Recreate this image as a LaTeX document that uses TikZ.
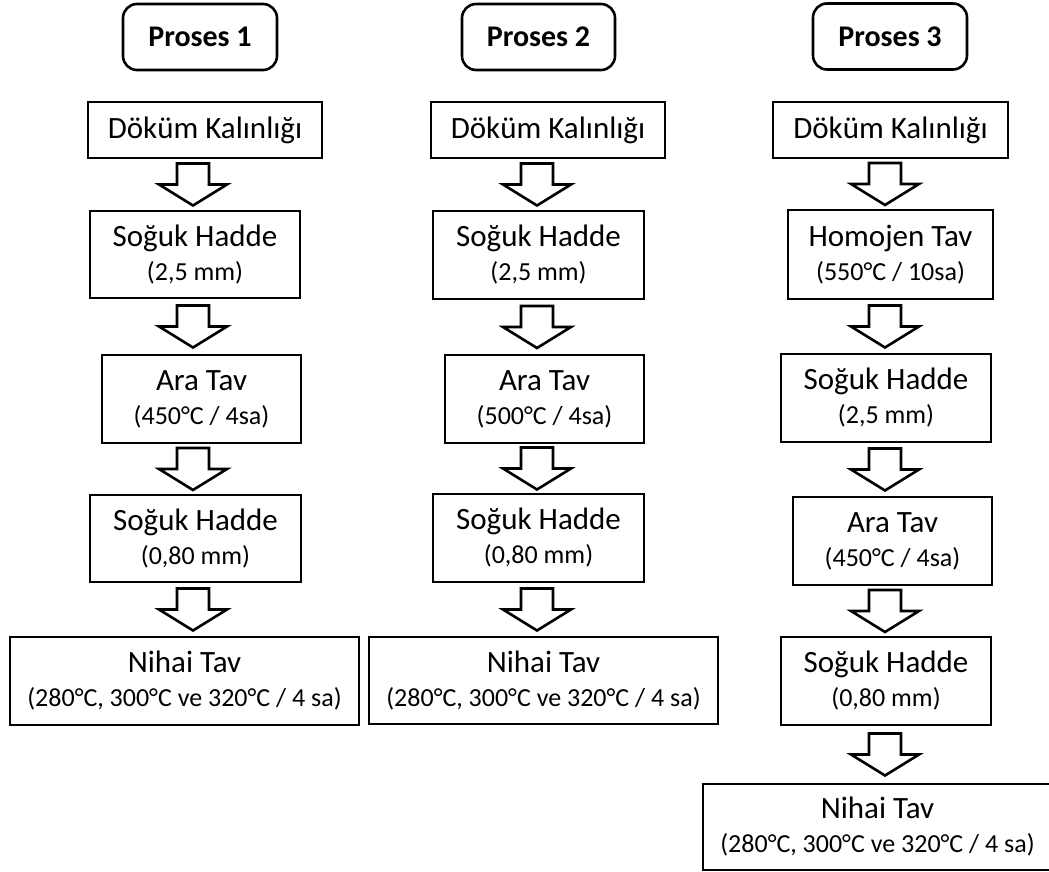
\documentclass[tikz,border=0pt]{standalone}
\usepackage{fontspec}
\setmainfont{Carlito}
\usetikzlibrary{calc}

\begin{document}
\begin{tikzpicture}[x=1pt,y=-1pt,
    stepbox/.style={draw,line width=2.6pt,align=center,inner sep=0pt,
        font=\fontsize{31}{34}\selectfont},
    headbox/.style={stepbox,rounded corners=14pt,font=\fontsize{30}{34}\selectfont\bfseries},
    flowarrow/.style={draw,line width=2.6pt,line join=miter,fill=white}]
    \useasboundingbox (0,0) rectangle (1049,872);

    \newcommand{\sub}[1]{{\fontsize{26}{30}\selectfont #1}}

    \coordinate (ax1) at (193,0);
    \coordinate (ax2) at (537,0);
    \coordinate (ax3) at (885,0);

    % Proses 1
    \node[headbox,minimum width=154,minimum height=66] (p1) at (200,37) {Proses 1};
    \node[stepbox,minimum width=234,minimum height=56] (d1) at (205,130) {Döküm Kalınlığı};
    \node[stepbox,minimum width=210,minimum height=87] (s1a) at (195,254.5) {Soğuk Hadde\\\sub{(2,5 mm)}};
    \node[stepbox,minimum width=199,minimum height=88] (a1) at (201.5,399) {Ara Tav\\\sub{(450°C / 4sa)}};
    \node[stepbox,minimum width=211,minimum height=87] (s1b) at (195.5,538.5) {Soğuk Hadde\\\sub{(0,80 mm)}};
    \node[stepbox,minimum width=349,minimum height=88] (n1) at (184.5,681) {Nihai Tav\\\sub{(280°C, 300°C ve 320°C / 4 sa)}};

    % Proses 2
    \node[headbox,minimum width=153,minimum height=66] (p2) at (538.5,37) {Proses 2};
    \node[stepbox,minimum width=234,minimum height=56] (d2) at (548,130) {Döküm Kalınlığı};
    \node[stepbox,minimum width=211,minimum height=88] (s2a) at (538.5,255) {Soğuk Hadde\\\sub{(2,5 mm)}};
    \node[stepbox,minimum width=199,minimum height=88] (a2) at (544.5,399) {Ara Tav\\\sub{(500°C / 4sa)}};
    \node[stepbox,minimum width=211,minimum height=88] (s2b) at (538.5,538) {Soğuk Hadde\\\sub{(0,80 mm)}};
    \node[stepbox,minimum width=349,minimum height=87] (n2) at (543.5,680.5) {Nihai Tav\\\sub{(280°C, 300°C ve 320°C / 4 sa)}};

    % Proses 3
    \node[headbox,minimum width=154,minimum height=66] (p3) at (890,36.5) {Proses 3};
    \node[stepbox,minimum width=235,minimum height=56] (d3) at (890.5,130) {Döküm Kalınlığı};
    \node[stepbox,minimum width=205,minimum height=89] (h3) at (890.5,254.5) {Homojen Tav\\\sub{(550°C / 10sa)}};
    \node[stepbox,minimum width=210,minimum height=88] (s3a) at (886,398) {Soğuk Hadde\\\sub{(2,5 mm)}};
    \node[stepbox,minimum width=199,minimum height=88] (a3) at (892.5,541) {Ara Tav\\\sub{(450°C / 4sa)}};
    \node[stepbox,minimum width=210,minimum height=88] (s3b) at (886,681) {Soğuk Hadde\\\sub{(0,80 mm)}};
    \node[stepbox,minimum width=349,minimum height=86] (n3) at (877.5,827) {Nihai Tav\\\sub{(280°C, 300°C ve 320°C / 4 sa)}};

    \foreach \a/\b/\c in {d1/s1a/ax1, s1a/a1/ax1, a1/s1b/ax1, s1b/n1/ax1,
                          d2/s2a/ax2, s2a/a2/ax2, a2/s2b/ax2, s2b/n2/ax2,
                          d3/h3/ax3, h3/s3a/ax3, s3a/a3/ax3, a3/s3b/ax3, s3b/n3/ax3}
        \draw[flowarrow] let \p1 = ($(\a.south)!0.5!(\b.north)$), \p2 = (\c) in
            (\x2-16pt,\y1+21pt) -- (\x2+16pt,\y1+21pt) -- (\x2+16pt,\y1) -- (\x2+34pt,\y1)
            -- (\x2,\y1-21pt) -- (\x2-34pt,\y1) -- (\x2-16pt,\y1) -- cycle;
\end{tikzpicture}
\end{document}
